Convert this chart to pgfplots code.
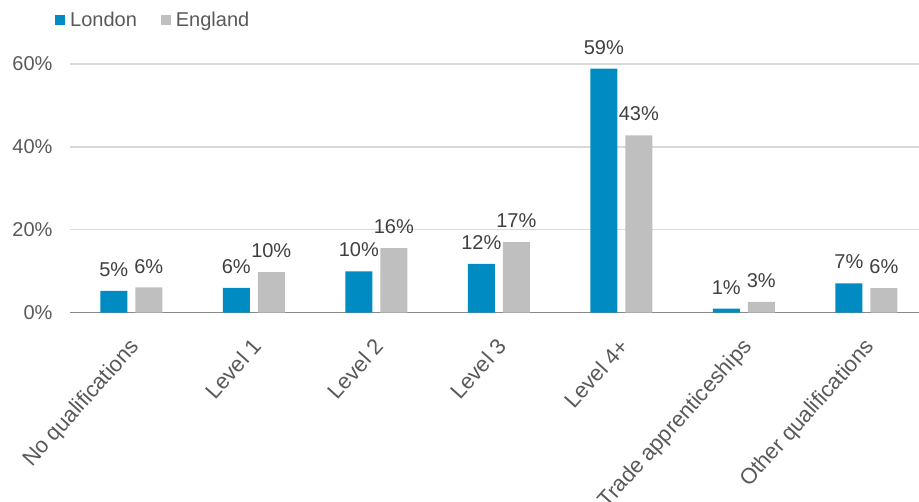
\documentclass[border=0pt]{standalone}
\usepackage{pgfplots}
\pgfplotsset{compat=1.18}
\usepackage{fontspec}
\setmainfont{Liberation Sans}
\definecolor{london}{HTML}{008BC2}
\definecolor{england}{HTML}{BFBFBF}
\definecolor{gridc}{HTML}{D9D9D9}
\definecolor{axisc}{HTML}{898989}
\definecolor{txtc}{HTML}{595959}
\definecolor{lblc}{HTML}{404040}
\begin{document}
\begin{tikzpicture}
\useasboundingbox (0,0) rectangle (919bp,502bp);
\begin{axis}[
  at={(70bp,189.3bp)}, anchor=south west,
  scale only axis, width=849bp, height=248.7bp,
  ybar=8bp, bar width=27bp,
  xmin=-0.5, xmax=6.43, ymin=0, ymax=60,
  clip=false,
  axis x line*=bottom, axis y line*=left,
  x axis line style={draw=axisc, line width=1.3bp},
  y axis line style={draw=none},
  ymajorgrids, grid style={draw=gridc, line width=1.3bp},
  major tick length=0pt,
  ytick={0,20,40,60},
  yticklabel={\pgfmathprintnumber{\tick}\%},
  yticklabel style={font=\fontsize{20bp}{24bp}\selectfont, text=txtc, xshift=-14bp},
  /pgf/number format/assume math mode=true,
  xtick={0,1,2,3,4,5,6},
  xticklabels={No qualifications, Level 1, Level 2, Level 3, Level 4+, Trade apprenticeships, Other qualifications},
  xticklabel style={font=\fontsize{22bp}{26bp}\selectfont, text=txtc, xshift=-3bp, yshift=-24bp, rotate=48, anchor=north east, inner sep=0pt},
  nodes near coords={\pgfmathprintnumber[fixed,precision=0]{\pgfplotspointmeta}\%},
  every node near coord/.append style={font=\fontsize{20bp}{24bp}\selectfont, text=lblc, anchor=south, inner sep=0pt, yshift=14bp},
  legend columns=2,
  legend style={at={(0,1)}, anchor=west, xshift=-18bp, yshift=44bp, draw=none, fill=none,
    font=\fontsize{20bp}{24bp}\selectfont, text=txtc,
    /tikz/every odd column/.append style={column sep=3bp},
    /tikz/every even column/.append style={column sep=22bp}},
  legend image code/.code={\fill[#1,draw=none] (0bp,-5bp) rectangle (10bp,5bp);},
]
\addplot[fill=london, draw=none] coordinates {(0,5.25) (1,6.0) (2,10.0) (3,11.8) (4,58.9) (5,1.0) (6,7.1)};
\addplot[fill=england, draw=none] coordinates {(0,6.1) (1,9.8) (2,15.6) (3,17.0) (4,42.8) (5,2.6) (6,5.9)};
\legend{London, England}
\end{axis}
\end{tikzpicture}
\end{document}
